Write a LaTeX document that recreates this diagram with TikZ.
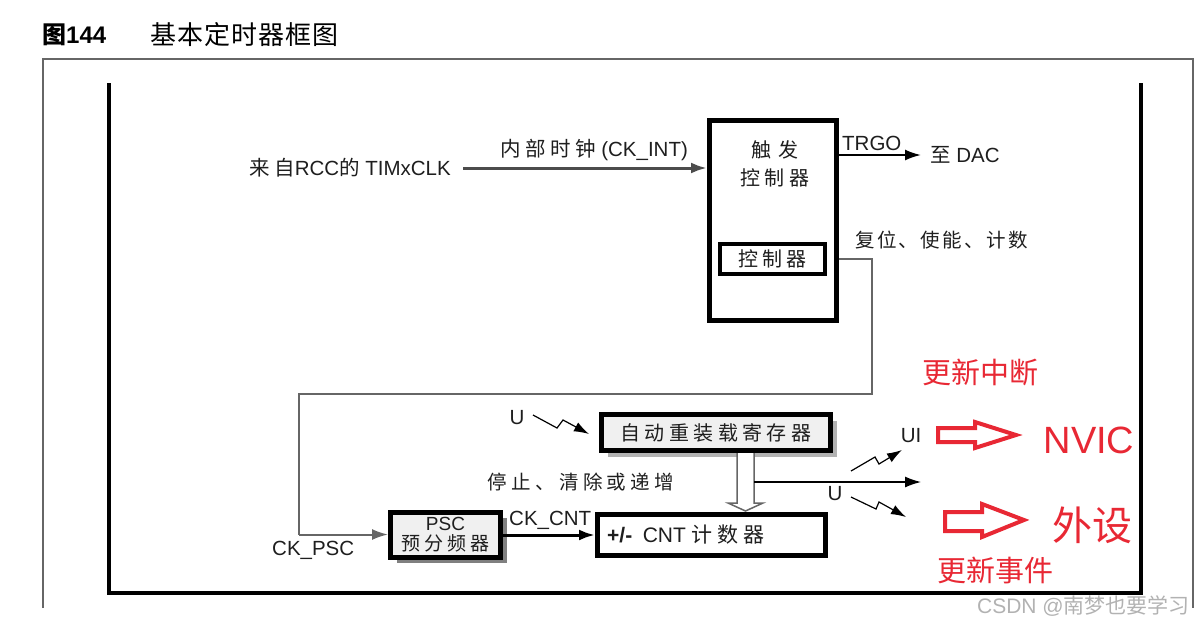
\documentclass[tikz,border=0pt]{standalone}
\usepackage{fontspec}
\setmainfont{Liberation Sans}
\newfontfamily\cjk{Noto Sans CJK SC}
\newfontfamily\cjks[LetterSpace=22]{Noto Sans CJK SC}
\newfontfamily\cjkm[LetterSpace=12]{Noto Sans CJK SC}
\usetikzlibrary{arrows.meta,shadows}
\pgfdeclarelayer{background}
\pgfsetlayers{background,main}
\definecolor{redtxt}{RGB}{232,40,52}
\definecolor{txt}{RGB}{30,30,30}
\begin{document}
\begin{tikzpicture}[x=1pt,y=-1pt,
  lbl/.style={inner sep=0pt, text=txt, font=\fontsize{20.5}{22}\selectfont},
  zh/.style={inner sep=0pt, text=txt, font=\fontsize{19.5}{22}\selectfont\cjks},
  thickbox/.style={draw=black, line width=5pt, fill=white, inner sep=0pt},
  shbox/.style={thickbox, fill=black!6, drop shadow={shadow xshift=6pt, shadow yshift=-6pt, fill=black!50, opacity=1}},
  arr/.style={-{Latex[length=16pt,width=11pt]}},
  redtext/.style={inner sep=0pt, text=redtxt},
  redarrow/.style={draw=redtxt, line width=4pt, line join=miter, fill=white},
  bolt/.style={black, line width=1.2pt, -{Latex[length=15pt,width=10pt]}}
]
\useasboundingbox (0,0) rectangle (1195,625);
% title
\node[anchor=west, inner sep=0pt, font=\fontsize{24}{26}\selectfont\bfseries] (t1) at (42,35) {{\cjk 图}144};
\node[anchor=west, inner sep=0pt, font=\fontsize{26}{28}\selectfont\cjk\addfontfeature{LetterSpace=4}] (t2) at (150,35) {基本定时器框图};
% outer frame
\draw[black!60, line width=2pt] (43,608) -- (43,59) -- (1193,59) -- (1193,608);
% inner frame
\draw[black, line width=4.5pt] (109,83) -- (109,593) -- (1141,593) -- (1141,83);

% trigger controller
\node[thickbox, minimum width=127pt, minimum height=200pt] (trig) at (773,220.5) {};
\node[zh, align=center, font=\fontsize{20}{28}\selectfont\cjks] (trigtxt) at (775,164) {触\,\,发\\控制器};
\node[thickbox, line width=4pt, minimum width=105pt, minimum height=30pt, font=\fontsize{20}{22}\selectfont\cjks, text=txt] (ctrl) at (772.5,259) {控制器};

% clock input
\coordinate (clkin) at (463,168);
\node[lbl, anchor=east] (rcc) at (451,168) {{\cjks 来自}RCC{\cjks 的} TIMxCLK};
\begin{pgfonlayer}{background}
\draw[black!70, line width=3pt, arr] (clkin) -- (clkin -| trig.west);
\end{pgfonlayer}
\node[lbl, anchor=south] (ckint) at (594,161) {{\cjks 内部时钟} (CK\_INT)};

% TRGO
\coordinate (trgoend) at (921,155);
\draw[black, line width=2pt, arr] (trig.east |- trgoend) -- (trgoend);
\node[lbl, anchor=south west] (trgo) at (842,151) {TRGO};
\node[lbl, anchor=west] (dac) at (930,155) {{\cjk 至} DAC};
\node[zh, anchor=west, font=\fontsize{19.5}{22}\selectfont\cjkm] (rst) at (855,240) {复位、使能、计数};

% PSC
\node[shbox, minimum width=110pt, minimum height=45pt, align=center, font=\fontsize{19}{20}\selectfont, text=txt] (psc) at (445.5,534.5) {PSC\\{\cjks 预分频器}};
\node[lbl, anchor=west] (ckpsc) at (272,550) {CK\_PSC};

% control connector
\coordinate (c1) at (872,394);
\coordinate (c2) at (299,394);
\draw[black!60, line width=2pt] (trig.east |- ctrl.east) -- (trig.east |- ctrl.east -| c1) -- (c1) -- (c2) -- (c2 |- psc.west);
\draw[black!60, line width=2pt, arr] (c2 |- psc.west) -- (psc.west);

% CNT counter
\node[thickbox, minimum width=228pt, minimum height=41pt] (cnt) at (711.5,535) {};
\node[lbl, anchor=west, font=\fontsize{21}{22}\selectfont] (cnttxt) at (607,535) {\textbf{+/-}\enspace CNT {\cjks 计数器}};
\draw[black, line width=3pt, arr] (psc.east |- cnt.west) -- (cnt.west);
\node[lbl, anchor=south west] (ckcnt) at (509,530) {CK\_CNT};

% auto reload register
\node[shbox, line width=5pt, minimum width=229pt, minimum height=36pt, font=\fontsize{20}{22}\selectfont\cjks, text=txt, drop shadow={shadow xshift=6pt, shadow yshift=-6pt, fill=black!30, opacity=1}] (arr) at (716,432.5) {自动重装载寄存器};
\node[zh] (stop) at (581,482) {停止、清除或递增};

% hollow arrow reload -> counter
\draw[black!60, line width=1.5pt, fill=white]
  (737,453) -- (737,503) -- (728,503) -- (745.5,511) -- (763,503) -- (754,503) -- (754,453);

% output line
\coordinate (outs) at (754,482);
\coordinate (oute) at (921,482);
\draw[black, line width=1.3pt, arr] (outs) -- (oute);

% lightning arrows
\node[lbl] (u1) at (517,418) {U};
\draw[bolt] (533,415) -- (557,428) -- (563,420) -- (589,434);
\node[lbl] (ui) at (911,436) {UI};
\draw[bolt] (851,471) -- (875,457) -- (879,464) -- (902,450);
\node[lbl] (u2) at (835,494) {U};
\draw[bolt] (851,497) -- (876,509) -- (879,502) -- (906,517);

% red annotations
\node[redtext, font=\fontsize{29}{30}\selectfont\cjk] (gxzd) at (980,372) {更新中断};
\node[redtext, font=\fontsize{38}{40}\selectfont] (nvic) at (1089,440) {NVIC};
\node[redtext, font=\fontsize{40}{42}\selectfont\cjk] (ws) at (1092,525) {外设};
\node[redtext, font=\fontsize{29}{30}\selectfont\cjk] (gxsj) at (995,570) {更新事件};
\draw[redarrow] (938,428) -- (975,428) -- (975,422) -- (1016,435) -- (975,448) -- (975,442) -- (938,442) -- cycle;
\draw[redarrow] (945,512) -- (982,512) -- (982,504) -- (1024,520) -- (982,537) -- (982,531) -- (945,531) -- cycle;

% watermark
\node[inner sep=0pt, text=black!30, font=\fontsize{21}{22}\selectfont, anchor=east] (wm) at (1190,606) {CSDN @{\cjk 南梦也要学习}};
\end{tikzpicture}
\end{document}
